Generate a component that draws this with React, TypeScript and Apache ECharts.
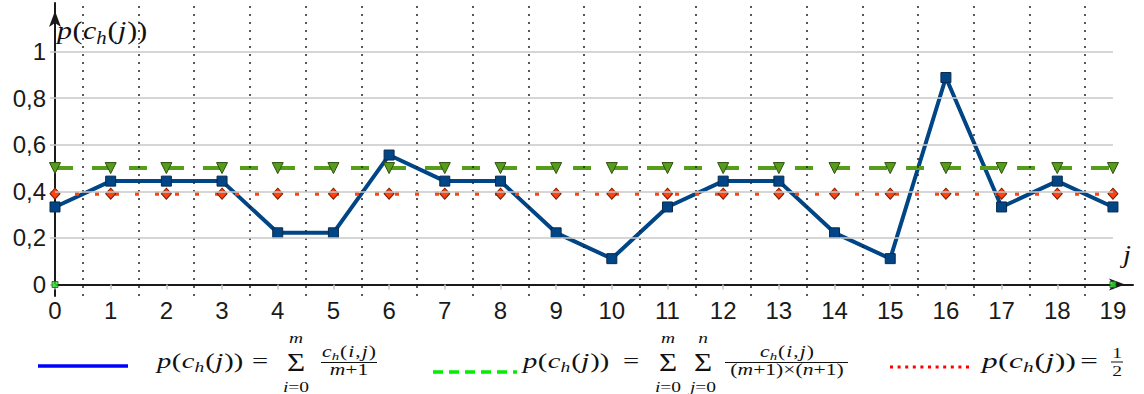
import React, { useEffect, useRef } from 'react';
import * as echarts from 'echarts';

// ---------- data ----------
const categories = [0, 1, 2, 3, 4, 5, 6, 7, 8, 9, 10, 11, 12, 13, 14, 15, 16, 17, 18, 19];
const blueValues = [0.333, 0.444, 0.444, 0.444, 0.222, 0.222, 0.556, 0.444, 0.444, 0.222, 0.111, 0.333, 0.444, 0.444, 0.222, 0.111, 0.889, 0.333, 0.444, 0.333];
const greenValues = [0.5, 0.5, 0.5, 0.5, 0.5, 0.5, 0.5, 0.5, 0.5, 0.5, 0.5, 0.5, 0.5, 0.5, 0.5, 0.5, 0.5, 0.5, 0.5, 0.5];
const redValues = [0.39, 0.39, 0.39, 0.39, 0.39, 0.39, 0.39, 0.39, 0.39, 0.39, 0.39, 0.39, 0.39, 0.39, 0.39, 0.39, 0.39, 0.39, 0.39, 0.39];
const endpointX = [0, 19];
const endpointY = [0, 0];
const yTicks = [0, 0.2, 0.4, 0.6, 0.8, 1];
const yGridLines = [0.2, 0.4, 0.6, 0.8, 1];

// ---------- text helpers ----------
const SERIF = '"Liberation Serif", "DejaVu Serif", serif';
const INK = '#111111';
let measureCtx: CanvasRenderingContext2D | null = null;
function tw(t: string, size: number, italic: boolean): number {
  if (!measureCtx) measureCtx = document.createElement('canvas').getContext('2d');
  if (!measureCtx) return t.length * size * 0.5;
  measureCtx.font = `${italic ? 'italic ' : ''}${size}px ${SERIF}`;
  return measureCtx.measureText(t).width;
}
type Seg = { t: string; i?: boolean; sub?: boolean; g?: number };
function segSize(s: Seg, size: number) {
  return s.sub ? Math.round(size * 0.68) : size;
}
function runWidth(segs: Seg[], size: number, sx: number) {
  let w = 0;
  for (const s of segs) w += (s.g ?? 0) + tw(s.t, segSize(s, size), !!s.i) * sx;
  return w;
}
function run(segs: Seg[], x: number, baseline: number, size: number, sx: number, out: any[]) {
  let cx = x;
  for (const s of segs) {
    cx += s.g ?? 0;
    const fs = segSize(s, size);
    const bl = baseline + (s.sub ? size * 0.2 : 0);
    out.push({
      type: 'text',
      x: cx,
      y: bl - 0.34 * fs,
      scaleX: sx,
      silent: true,
      style: {
        text: s.t,
        fontFamily: SERIF,
        fontSize: fs,
        fontStyle: s.i ? 'italic' : 'normal',
        fill: INK,
        align: 'left',
        verticalAlign: 'middle',
      },
    });
    cx += tw(s.t, fs, !!s.i) * sx;
  }
  return cx;
}
function runC(segs: Seg[], center: number, baseline: number, size: number, sx: number, out: any[]) {
  const w = runWidth(segs, size, sx);
  return run(segs, center - w / 2, baseline, size, sx, out);
}
function hline(x1: number, x2: number, y: number, stroke: string, lineWidth: number, out: any[], lineDash?: number[]) {
  out.push({
    type: 'line',
    silent: true,
    shape: { x1, y1: y, x2, y2: y },
    style: { stroke, lineWidth, lineDash: lineDash ?? null },
  });
}

const PC: Seg[] = [
  { t: 'p', i: true },
  { t: '(', g: 0.5 },
  { t: 'c', i: true, g: 0.5 },
  { t: 'h', i: true, sub: true },
  { t: '(', g: 1 },
  { t: 'j', i: true, g: 0.5 },
  { t: '))', g: 1 },
];
const NUM: Seg[] = [
  { t: 'c', i: true },
  { t: 'h', i: true, sub: true },
  { t: '(', g: 1 },
  { t: 'i', i: true, g: 1 },
  { t: ',', g: 1 },
  { t: 'j', i: true, g: 1 },
  { t: ')', g: 1 },
];

function buildGraphics() {
  const g: any[] = [];
  // y axis name
  run(PC, 57, 39, 26, 1.15, g);
  // x axis name
  run([{ t: 'j', i: true }], 1123, 263, 26, 1.1, g);

  const BL = 368;
  const SX = 1.3;
  // legend 1
  hline(38, 128, 366, '#0000ff', 3.5, g);
  run(PC, 157, BL, 22, SX, g);
  runC([{ t: '=' }], 260, BL, 22, SX, g);
  runC([{ t: 'Σ' }], 296, 371, 26, 1.2, g);
  runC([{ t: 'm', i: true }], 296, 343, 15, SX, g);
  runC([{ t: 'i', i: true }, { t: '=0' }], 296, 392, 15, SX, g);
  runC(NUM, 349, 357, 16, 1.35, g);
  hline(321, 377, 362.5, INK, 1, g);
  runC([{ t: 'm', i: true }, { t: '+1' }], 349, 375, 16, 1.35, g);

  // legend 2
  hline(433, 517, 372, '#00ee00', 3.5, g, [10, 6]);
  run(PC, 523, BL, 22, SX, g);
  runC([{ t: '=' }], 631, BL, 22, SX, g);
  runC([{ t: 'Σ' }], 668, 371, 26, 1.2, g);
  runC([{ t: 'm', i: true }], 668, 343, 15, SX, g);
  runC([{ t: 'i', i: true }, { t: '=0' }], 668, 392, 15, SX, g);
  runC([{ t: 'Σ' }], 703, 371, 26, 1.2, g);
  runC([{ t: 'n', i: true }], 703, 343, 15, SX, g);
  runC([{ t: 'j', i: true }, { t: '=0' }], 703, 392, 15, SX, g);
  runC(NUM, 787, 357, 16, 1.35, g);
  hline(725, 848, 362.5, INK, 1, g);
  runC(
    [{ t: '(' }, { t: 'm', i: true }, { t: '+1)×(' }, { t: 'n', i: true }, { t: '+1)' }],
    787,
    375,
    16,
    1.35,
    g
  );

  // legend 3
  hline(890, 973, 367, '#ff0000', 3, g, [3, 4.6]);
  run(PC, 982, BL, 22, 1.42, g);
  runC([{ t: '=' }], 1089, BL, 22, 1.42, g);
  runC([{ t: '1' }], 1117, 358, 15, 1.3, g);
  hline(1111, 1123, 362, INK, 1, g);
  runC([{ t: '2' }], 1117, 376, 15, 1.3, g);
  return g;
}

const X_MAX = 19.36;

export default function App() {
  const ref = useRef<HTMLDivElement>(null);
  useEffect(() => {
    if (!ref.current) return;
    const chart = echarts.init(ref.current, undefined, { renderer: 'svg', width: 1144, height: 394 });
    const separators = categories.slice(0, -1).map((c) => c + 0.5);
    const option: any = {
      animation: false,
      backgroundColor: '#ffffff',
      textStyle: { fontFamily: '"Liberation Sans", Arial, sans-serif' },
      grid: [
        { left: 55, right: 11, top: 5.1, bottom: 109.5 },
        { left: 55, right: 11, top: 3, bottom: 98 },
      ],
      xAxis: [
        {
          type: 'value',
          gridIndex: 0,
          min: 0,
          max: X_MAX,
          axisLine: {
            show: true,
            onZero: false,
            symbol: ['none', 'arrow'],
            symbolSize: [9, 16],
            symbolOffset: [0, -8],
            lineStyle: { color: '#1a1a1a', width: 2 },
          },
          axisTick: { show: true, customValues: categories, length: 5, lineStyle: { color: '#c4c4c4', width: 1.5 } },
          axisLabel: {
            customValues: categories,
            margin: 14,
            fontSize: 24,
            color: '#1a1a1a',
            fontFamily: '"Liberation Sans", Arial, sans-serif',
          },
          splitLine: { show: false },
        },
        { type: 'value', gridIndex: 1, min: 0, max: X_MAX, show: false },
      ],
      yAxis: [
        {
          type: 'value',
          gridIndex: 0,
          min: 0,
          max: 1.2,
          axisLine: { show: false },
          axisTick: { show: true, customValues: yTicks, length: 5, lineStyle: { color: '#c4c4c4', width: 1.5 } },
          axisLabel: {
            customValues: yTicks,
            margin: 9,
            fontSize: 24,
            color: '#1a1a1a',
            fontFamily: '"Liberation Sans", Arial, sans-serif',
            formatter: (v: number) => String(v).replace('.', ','),
          },
          splitLine: { show: false },
        },
        {
          type: 'value',
          gridIndex: 1,
          min: 0,
          max: 1,
          axisLine: {
            show: true,
            symbol: ['none', 'arrow'],
            symbolSize: [9, 16],
            symbolOffset: [0, -8],
            lineStyle: { color: '#1a1a1a', width: 2 },
          },
          axisTick: { show: false },
          axisLabel: { show: false },
          splitLine: { show: false },
        },
      ],
      series: [
        {
          type: 'line',
          xAxisIndex: 1,
          yAxisIndex: 1,
          data: [],
          z: 1,
          silent: true,
          markLine: {
            silent: true,
            symbol: ['none', 'none'],
            label: { show: false },
            emphasis: { disabled: true },
            lineStyle: { type: [2, 6], color: '#222222', width: 1.5 },
            data: separators.map((v) => ({ xAxis: v })),
          },
        },
        {
          type: 'line',
          xAxisIndex: 0,
          yAxisIndex: 0,
          data: [],
          z: 1,
          silent: true,
          markLine: {
            silent: true,
            symbol: ['none', 'none'],
            label: { show: false },
            emphasis: { disabled: true },
            lineStyle: { type: 'solid', color: '#c8c8c8', width: 1.5 },
            data: yGridLines.map((v) => [{ coord: [0, v] }, { coord: [19, v] }]),
          },
        },
        {
          name: 'blue',
          type: 'line',
          xAxisIndex: 0,
          yAxisIndex: 0,
          z: 3,
          data: categories.map((c, i) => [c, blueValues[i]]),
          lineStyle: { color: '#004586', width: 4 },
          symbol: 'rect',
          symbolSize: 10,
          itemStyle: { color: '#004586', borderColor: '#0b2a4d', borderWidth: 1 },
        },
        {
          name: 'green',
          type: 'line',
          xAxisIndex: 0,
          yAxisIndex: 0,
          z: 3,
          data: categories.map((c, i) => [c, greenValues[i]]),
          lineStyle: { color: '#579d1c', width: 4, type: [18, 19] },
          symbol: 'triangle',
          symbolRotate: 180,
          symbolSize: 11,
          itemStyle: { color: '#579d1c', borderColor: '#2c4f0e', borderWidth: 1 },
        },
        {
          name: 'red',
          type: 'line',
          xAxisIndex: 0,
          yAxisIndex: 0,
          z: 3,
          data: categories.map((c, i) => [c, redValues[i]]),
          lineStyle: { color: '#ff420e', width: 4, type: [4, 16] },
          symbol: 'diamond',
          symbolSize: [10, 11],
          itemStyle: { color: '#ff420e', borderColor: '#7a1e05', borderWidth: 1 },
        },
        {
          name: 'ends',
          type: 'scatter',
          xAxisIndex: 0,
          yAxisIndex: 0,
          z: 4,
          data: endpointX.map((x, i) => [x, endpointY[i]]),
          symbol: 'rect',
          symbolSize: 6,
          itemStyle: { color: '#33dd33', borderColor: '#116611', borderWidth: 1 },
        },
      ],
      graphic: buildGraphics(),
    };
    chart.setOption(option);
    return () => chart.dispose();
  }, []);
  return (
    <div
      ref={ref}
      style={{ position: 'fixed', left: 0, top: 0, width: 1144, height: 394, background: '#fff' }}
    />
  );
}
